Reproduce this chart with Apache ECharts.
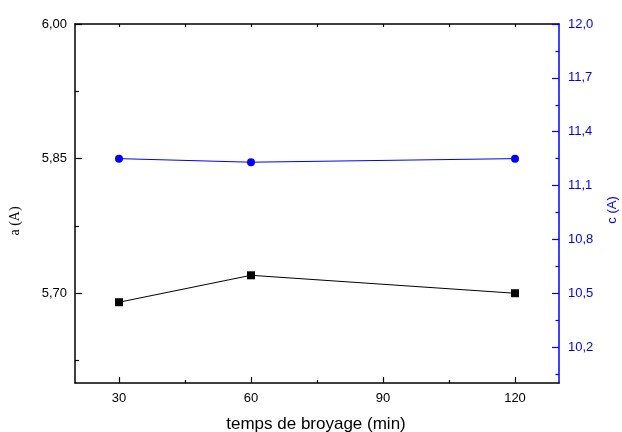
<!DOCTYPE html>
<html>
<head>
<meta charset="utf-8">
<script src="https://cdn.jsdelivr.net/npm/echarts@6/dist/echarts.min.js"></script>
<style>
  html, body { margin: 0; padding: 0; background: #fff; }
  #chart { width: 622px; height: 432px; }
</style>
</head>
<body>
<div id="chart"></div>
<script>
// Milling time (min)
const millingTimes = [30, 60, 120];
// Lattice parameter a (Å), left axis
const aValues = [5.69, 5.72, 5.70];
// Lattice parameter c (Å), right axis
const cValues = [11.25, 11.23, 11.25];

// Tick positions
const xMajorTicks = [30, 60, 90, 120];
const xMinorTicks = [45, 75, 105];
const aMajorTicks = [5.70, 5.85, 6.00];
const aMinorTicks = [5.625, 5.775, 5.925];
const cMajorTicks = [10.2, 10.5, 10.8, 11.1, 11.4, 11.7, 12.0];
const cMinorTicks = [10.05, 10.35, 10.65, 10.95, 11.25, 11.55, 11.85];

const BLACK = '#000000';
const BLUE = '#0000ff';
const SANS = 'Liberation Sans, Arial, sans-serif';
const SERIF = 'Liberation Serif, Times New Roman, serif';

const comma = (digits) => (v) => Number(v).toFixed(digits).replace('.', ',');

const chart = echarts.init(document.getElementById('chart'), null, { renderer: 'canvas' });

const xRange = { min: 20, max: 130 };
const aRange = { min: 5.60, max: 6.00 };
const cRange = { min: 10.0, max: 12.0 };

chart.setOption({
  animation: false,
  backgroundColor: '#ffffff',
  grid: { left: 75, right: 63, top: 24, bottom: 49, containLabel: false },
  xAxis: [
    {
      type: 'value', position: 'bottom', ...xRange,
      axisLine: { show: true, onZero: false, lineStyle: { color: BLACK, width: 1.5 } },
      axisTick: { show: true, inside: true, length: 6, customValues: xMajorTicks, lineStyle: { color: BLACK, width: 1.2 } },
      axisLabel: { show: true, margin: 9, customValues: xMajorTicks, color: BLACK, fontSize: 13, fontFamily: SANS },
      splitLine: { show: false }
    },
    {
      type: 'value', position: 'bottom', ...xRange,
      axisLine: { show: false, onZero: false },
      axisTick: { show: true, inside: true, length: 3, customValues: xMinorTicks, lineStyle: { color: BLACK, width: 1.2 } },
      axisLabel: { show: false },
      splitLine: { show: false }
    },
    {
      type: 'value', position: 'top', ...xRange,
      axisLine: { show: true, onZero: false, lineStyle: { color: BLACK, width: 1.5 } },
      axisTick: { show: true, inside: true, length: 3, customValues: xMajorTicks.concat(xMinorTicks), lineStyle: { color: BLACK, width: 1.2 } },
      axisLabel: { show: false },
      splitLine: { show: false }
    }
  ],
  yAxis: [
    {
      type: 'value', position: 'left', ...aRange,
      axisLine: { show: true, onZero: false, lineStyle: { color: BLACK, width: 1.5 } },
      axisTick: { show: true, inside: true, length: 7, customValues: aMajorTicks, lineStyle: { color: BLACK, width: 1.2 } },
      axisLabel: { show: true, margin: 8, customValues: aMajorTicks, formatter: comma(2), color: BLACK, fontSize: 13, fontFamily: SANS },
      splitLine: { show: false }
    },
    {
      type: 'value', position: 'right', ...cRange,
      axisLine: { show: true, onZero: false, lineStyle: { color: BLUE, width: 1.5 } },
      axisTick: { show: true, inside: true, length: 7, customValues: cMajorTicks, lineStyle: { color: BLUE, width: 1.2 } },
      axisLabel: { show: true, margin: 9, customValues: cMajorTicks, formatter: comma(1), color: BLUE, fontSize: 13, fontFamily: SANS },
      splitLine: { show: false }
    },
    {
      type: 'value', position: 'left', ...aRange,
      axisLine: { show: false, onZero: false },
      axisTick: { show: true, inside: true, length: 4, customValues: aMinorTicks, lineStyle: { color: BLACK, width: 1.2 } },
      axisLabel: { show: false },
      splitLine: { show: false }
    },
    {
      type: 'value', position: 'right', ...cRange,
      axisLine: { show: false, onZero: false },
      axisTick: { show: true, inside: true, length: 3.5, customValues: cMinorTicks, lineStyle: { color: BLUE, width: 1.2 } },
      axisLabel: { show: false },
      splitLine: { show: false }
    }
  ],
  series: [
    {
      name: 'a', type: 'line', xAxisIndex: 0, yAxisIndex: 0,
      data: millingTimes.map((t, i) => [t, aValues[i]]),
      symbol: 'rect', symbolSize: 8,
      itemStyle: { color: BLACK },
      lineStyle: { color: BLACK, width: 1 }
    },
    {
      name: 'c', type: 'line', xAxisIndex: 0, yAxisIndex: 1,
      data: millingTimes.map((t, i) => [t, cValues[i]]),
      symbol: 'circle', symbolSize: 8,
      itemStyle: { color: BLUE },
      lineStyle: { color: BLUE, width: 1 }
    }
  ],
  graphic: [
    {
      type: 'text', x: 316, y: 424,
      style: { text: 'temps de broyage (min)', font: '17px ' + SANS, fill: BLACK, align: 'center', verticalAlign: 'middle' }
    },
    {
      type: 'text', x: 15, y: 221, rotation: Math.PI / 2,
      style: { text: 'a (A)', font: '14px ' + SERIF, fill: BLACK, align: 'center', verticalAlign: 'middle' }
    },
    {
      type: 'text', x: 612, y: 210, rotation: Math.PI / 2,
      style: { text: 'c (A)', font: '13px ' + SANS, fill: BLUE, align: 'center', verticalAlign: 'middle' }
    }
  ]
});
</script>
</body>
</html>
